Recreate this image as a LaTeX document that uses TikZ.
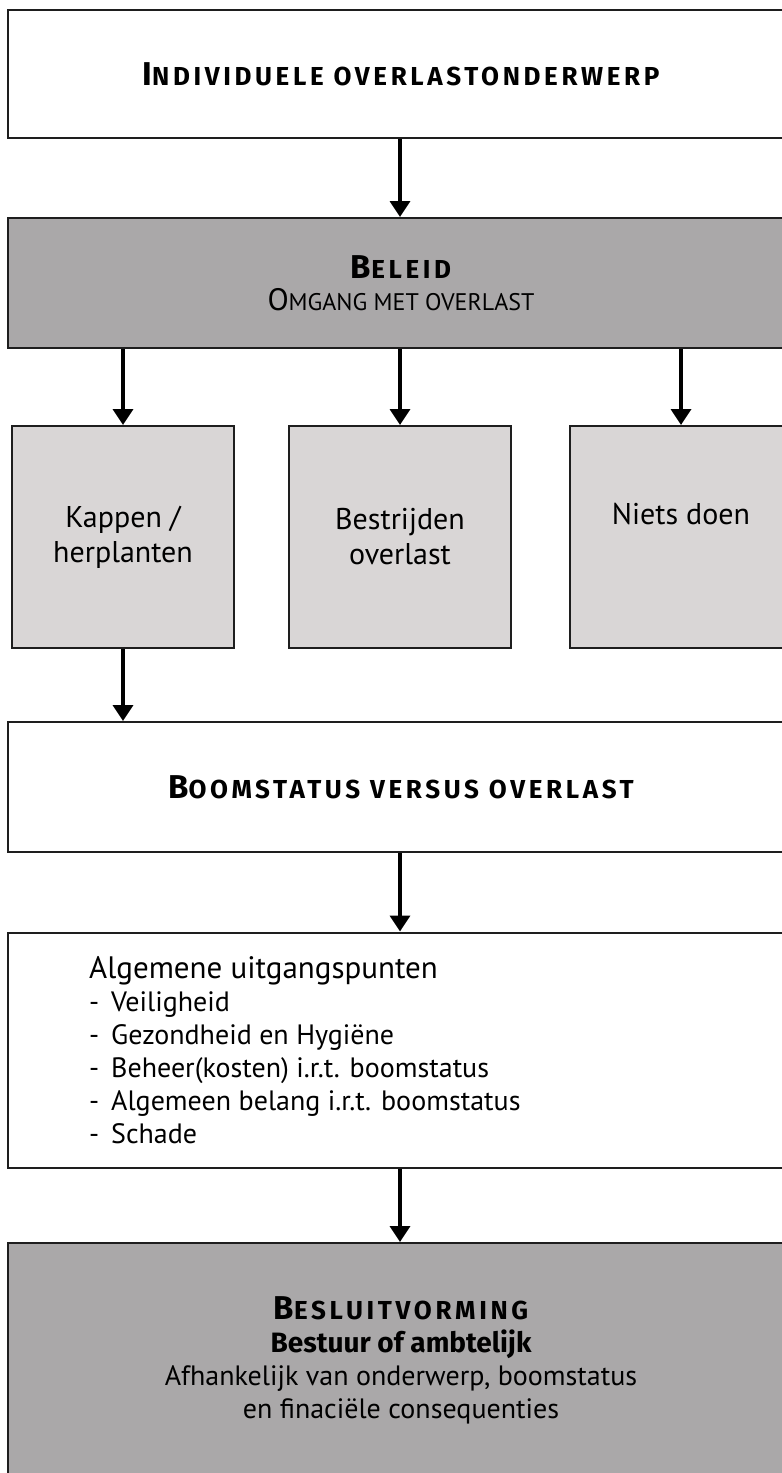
\documentclass[tikz,border=0pt]{standalone}
\usepackage{fontspec}
\setmainfont{PT Sans}
\newfontfamily\kopfont{Fira Sans}
\newfontfamily\kapfont{Fira Sans}[LetterSpace=14]
\usepackage{tikz}
\usetikzlibrary{arrows.meta,positioning}
\definecolor{BeleidGrey}{HTML}{AAA8A9}
\definecolor{OptieGrey}{HTML}{D9D6D6}
\definecolor{BoxLine}{HTML}{1E1E1E}
% fake small caps: first letter full size, rest smaller
\newcommand\kleinkap[3][26]{#2{\fontsize{#1}{#1}\selectfont #3}}
\newcommand\punt[1]{\makebox[22pt][l]{-}#1}

\begin{document}
\begin{tikzpicture}[
  x=1pt, y=-1pt,
  box/.style={draw=BoxLine,line width=2pt,fill=white,inner sep=0pt,align=center,
    minimum width=786pt,font=\fontsize{28}{33}\selectfont},
  kop/.style={font=\kapfont\bfseries\fontsize{33}{36}\selectfont},
  optie/.style={box,fill=OptieGrey,minimum width=222pt,minimum height=222pt,
    font=\fontsize{30}{35}\selectfont},
  arrow/.style={-{Triangle[width=20pt,length=16pt]},line width=3.5pt}
]
  \useasboundingbox (0,0) rectangle (782,1473);

  \node[box,kop,minimum height=128pt] (onderwerp) at (401,74)
    {\kleinkap{I}{NDIVIDUELE OVERLASTONDERWERP}};

  \node[box,fill=BeleidGrey,minimum height=130pt] (beleid) at (401,283)
    {{\kapfont\bfseries\fontsize{33}{36}\selectfont\kleinkap{B}{ELEID}}\\[-1pt]
     {\fontsize{31}{33}\selectfont\kleinkap[24]{O}{MGANG MET OVERLAST}}};

  \node[optie] (kappen) at (123,537) {Kappen /\\herplanten};
  \node[optie] (bestrijden) at (400,537) {Bestrijden\\overlast};
  \node[optie] (niets) at (681,537) {Niets doen\\\strut};

  \node[box,kop,minimum height=130pt] (boomstatus) at (401,787)
    {\kleinkap{B}{OOMSTATUS VERSUS OVERLAST}};

  \node[box,minimum height=235pt] (uitgangspunten) at (401,1050) {};
  \node[anchor=north west,align=left,inner sep=0pt,font=\fontsize{28}{33}\selectfont]
    (punten) at (89,956)
    {{\fontsize{31}{33}\selectfont Algemene uitgangspunten}\\
     \punt{Veiligheid}\\
     \punt{Gezondheid en Hygiëne}\\
     \punt{Beheer(kosten) i.r.t. boomstatus}\\
     \punt{Algemeen belang i.r.t. boomstatus}\\
     \punt{Schade}};

  \node[box,fill=BeleidGrey,minimum height=234pt] (besluit) at (401,1360)
    {{\kapfont\bfseries\fontsize{33}{36}\selectfont\kleinkap{B}{ESLUITVORMING}}\\
     {\kopfont\bfseries Bestuur of ambtelijk}\\
     Afhankelijk van onderwerp, boomstatus\\
     en finaciële consequenties};

  \draw[arrow] (onderwerp.south -| 400,0) -- (beleid.north -| 400,0);
  \draw[arrow] (beleid.south -| kappen) -- (kappen);
  \draw[arrow] (beleid.south -| bestrijden) -- (bestrijden);
  \draw[arrow] (beleid.south -| niets) -- (niets);
  \draw[arrow] (kappen) -- (kappen |- boomstatus.north);
  \draw[arrow] (boomstatus.south -| 400,0) -- (uitgangspunten.north -| 400,0);
  \draw[arrow] (uitgangspunten.south -| 400,0) -- (besluit.north -| 400,0);
\end{tikzpicture}
\end{document}
